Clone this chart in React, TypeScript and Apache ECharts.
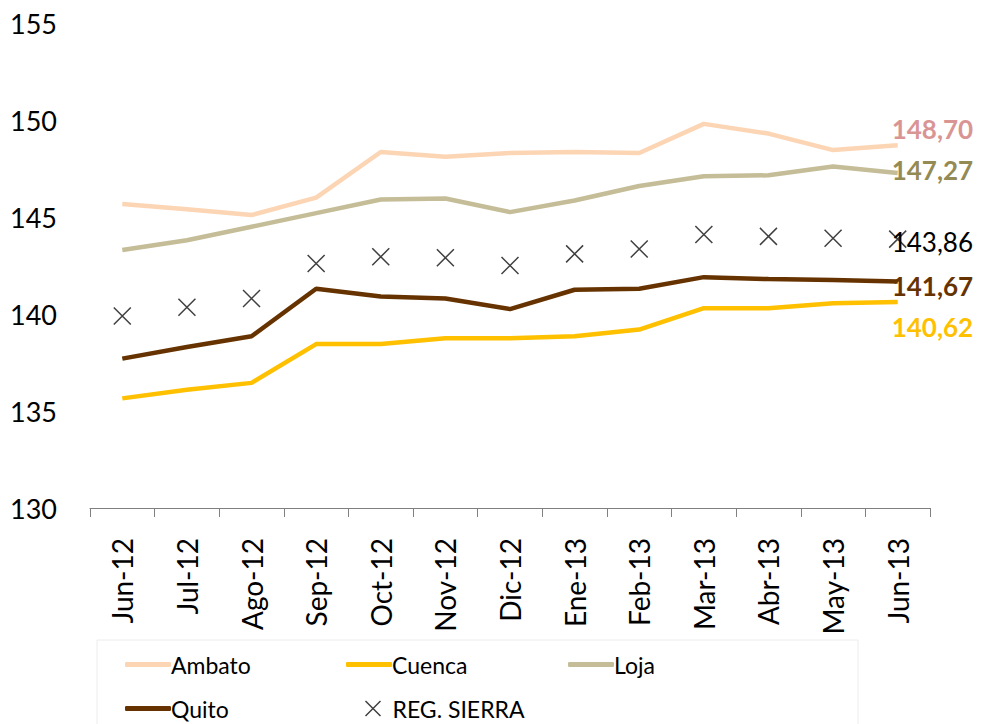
import React, { useEffect, useRef } from "react";
import * as echarts from "echarts";

const categories = ["Jun-12","Jul-12","Ago-12","Sep-12","Oct-12","Nov-12","Dic-12","Ene-13","Feb-13","Mar-13","Abr-13","May-13","Jun-13"];
const ambato = [145.67,145.4,145.1,146.0,148.35,148.1,148.3,148.35,148.3,149.8,149.3,148.45,148.70];
const cuenca = [135.65,136.1,136.45,138.45,138.45,138.75,138.75,138.85,139.2,140.3,140.3,140.55,140.62];
const loja = [143.3,143.8,144.5,145.2,145.9,145.95,145.25,145.85,146.6,147.1,147.15,147.6,147.27];
const quito = [137.7,138.3,138.85,141.3,140.9,140.8,140.25,141.25,141.3,141.9,141.8,141.75,141.67];
const regSierra = [139.9,140.35,140.8,142.6,142.95,142.9,142.5,143.1,143.35,144.1,144.0,143.9,143.86];
const yTicks = { min: 130, max: 155, interval: 5 };

const FONT = "Lato";
const fmt = (v: number) => v.toFixed(2).replace(".", ",");

const COLORS = {
  Ambato: "#FCD5B5",
  Cuenca: "#FFC000",
  Loja: "#C4BD97",
  Quito: "#663300",
} as Record<string, string>;

export default function App() {
  const ref = useRef<HTMLDivElement>(null);
  useEffect(() => {
    const chart = echarts.init(ref.current!, null, { renderer: "svg" });
    const xPath = "path://M0,0L10,10M10,0L0,10";
    const lineSeries = (name: string, data: number[], labelColor: string, offsetY: number) => ({
      name,
      type: "line",
      data,
      symbol: "none",
      lineStyle: { color: COLORS[name], width: 4.5 },
      itemStyle: { color: COLORS[name] },
      endLabel: {
        show: true,
        distance: -6,
        offset: [0, offsetY],
        formatter: () => fmt(data[data.length - 1]),
        color: labelColor,
        fontFamily: FONT,
        fontSize: 26,
        fontWeight: "bold",
      },
      z: 3,
    });
    const mkLegend = (name: string, left: number, top: number, isMarker = false) => ({
      data: [
        isMarker
          ? { name, icon: xPath, itemStyle: { color: "none", borderColor: "#404040", borderWidth: 1.5 } }
          : { name, icon: "roundRect", itemStyle: { color: COLORS[name], borderWidth: 0 } },
      ],
      left,
      top,
      itemWidth: isMarker ? 15 : 46,
      itemHeight: isMarker ? 15 : 5,
      itemGap: 0,
      textStyle: { fontFamily: FONT, fontSize: 23, color: "#000", padding: isMarker ? [0, 0, 0, 7] : [0, 0, 0, -5] },
      selectedMode: false,
    });
    chart.setOption({
      animation: false,
      textStyle: { fontFamily: FONT },
      grid: { left: 90, right: 54, top: 23, bottom: 216, containLabel: false },
      legend: [
        mkLegend("Ambato", 120, 648),
        mkLegend("Cuenca", 341, 648),
        mkLegend("Loja", 563, 648),
        mkLegend("Quito", 120, 692),
        mkLegend("REG. SIERRA", 358, 692, true),
      ],
      graphic: [
        {
          type: "rect",
          shape: { x: 97, y: 640, width: 761, height: 100 },
          style: { fill: "none", stroke: "#ececec", lineWidth: 1 },
          silent: true,
        },
      ],
      xAxis: {
        type: "category",
        data: categories,
        boundaryGap: true,
        axisLine: { lineStyle: { color: "#808080", width: 1 } },
        axisTick: { show: true, length: 9, lineStyle: { color: "#808080" } },
        axisLabel: {
          rotate: 90,
          margin: 30,
          fontFamily: FONT,
          fontSize: 28,
          color: "#000",
          interval: 0,
        },
      },
      yAxis: {
        type: "value",
        min: yTicks.min,
        max: yTicks.max,
        interval: yTicks.interval,
        axisLine: { show: false },
        axisTick: { show: false },
        splitLine: { show: false },
        axisLabel: { margin: 33, fontFamily: FONT, fontSize: 27, color: "#000" },
      },
      series: [
        lineSeries("Ambato", ambato, "#D99594", -16),
        lineSeries("Cuenca", cuenca, "#FFC000", 25),
        lineSeries("Loja", loja, "#948A54", -3),
        lineSeries("Quito", quito, "#663300", 4),
        {
          name: "REG. SIERRA",
          type: "line",
          data: regSierra,
          lineStyle: { width: 0, opacity: 0 },
          symbol: xPath,
          symbolSize: 17,
          showAllSymbol: true,
          itemStyle: { color: "none", borderColor: "#404040", borderWidth: 1.5 },
          endLabel: {
            show: true,
            distance: -6,
            offset: [0, 3],
            formatter: () => fmt(regSierra[regSierra.length - 1]),
            color: "#000",
            fontFamily: FONT,
            fontSize: 26,
          },
          z: 4,
        },
      ],
    });
    return () => chart.dispose();
  }, []);
  return <div ref={ref} style={{ width: 984, height: 724, position: "absolute", left: 0, top: 0, background: "#fff" }} />;
}
